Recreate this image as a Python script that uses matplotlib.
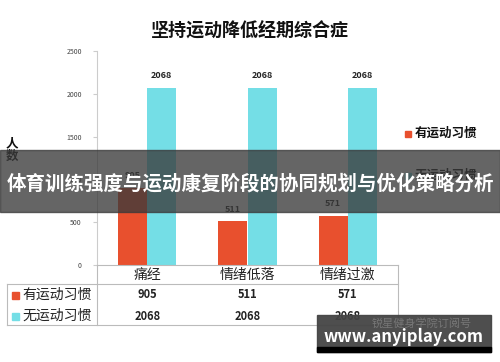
import matplotlib
matplotlib.use("Agg")
import matplotlib.pyplot as plt
from matplotlib.patches import Rectangle
from matplotlib.lines import Line2D
from matplotlib.transforms import blended_transform_factory

plt.rcParams['font.family'] = ['Noto Sans CJK SC', 'DejaVu Sans']

# data
categories = ["痛经", "情绪低落", "情绪过激"]
series_names = ["有运动习惯", "无运动习惯"]
with_habit = [905, 511, 571]
without_habit = [2068, 2068, 2068]
yticks = [0, 500, 1000, 1500, 2000, 2500]
colors = ["#E8502E", "#74DEE6"]

title = "坚持运动降低经期综合症"
ylabel = "人数"
banner = "体育训练强度与运动康复阶段的协同规划与优化策略分析"
source = "锐星健身学院订阅号"
site = "www.anyiplay.com"

W, H = 500, 362
fig = plt.figure(figsize=(W / 100, H / 100), dpi=100)
fig.patch.set_facecolor("white")

def fx(px):
    return px / W

def fy(py):
    return 1 - py / H

ax = fig.add_axes([fx(97), fy(265), fx(398) - fx(97), fy(51) - fy(265)])
x = list(range(len(categories)))
bw = 0.29
b1 = ax.bar([i - bw / 2 for i in x], with_habit, bw, color=colors[0])
b2 = ax.bar([i + bw / 2 for i in x], without_habit, bw, color=colors[1])
for bars, vals in [(b1, with_habit), (b2, without_habit)]:
    for r, v in zip(bars, vals):
        ax.text(r.get_x() + r.get_width() / 2, v + 90, str(v), ha="center",
                va="bottom", fontsize=6.5, fontweight="bold", color="#222222")

ax.set_xlim(-0.5, 2.5)
ax.set_ylim(0, 2500)
ax.set_yticks(yticks)
ax.set_yticklabels([str(t) for t in yticks], fontsize=5, color="#444444")
ax.tick_params(axis="y", length=3, color="#cccccc", pad=8)
ax.set_xticks([])
for s in ["top", "right", "bottom"]:
    ax.spines[s].set_visible(False)
ax.spines["left"].set_color("#cccccc")
ax.spines["left"].set_linewidth(0.8)

fig.text(0.5, fy(31), title, ha="center", va="center", fontsize=13,
         fontweight="heavy", color="#111111")
fig.text(fx(12), fy(150), "人\n数", ha="center", va="center", fontsize=9,
         fontweight="bold", color="#111111", linespacing=1.0)

# legend on right
fig.add_artist(Rectangle((fx(405), fy(137)), fx(6), 6 / H, color=colors[0],
                         transform=fig.transFigure))
fig.text(fx(415), fy(133), series_names[0], ha="left", va="center", fontsize=9,
         fontweight="heavy", color="#111111")
fig.add_artist(Rectangle((fx(405), fy(179)), fx(6), 6 / H, color=colors[1],
                         transform=fig.transFigure))
fig.text(fx(415), fy(175), series_names[1], ha="left", va="center", fontsize=9,
         fontweight="heavy", color="#111111")

# data table below axis
lc = "#bbbbbb"
def hline(y, x0, x1):
    fig.add_artist(Line2D([fx(x0), fx(x1)], [fy(y), fy(y)], color=lc, lw=0.8,
                          transform=fig.transFigure))

def vline(x_, y0, y1):
    fig.add_artist(Line2D([fx(x_), fx(x_)], [fy(y0), fy(y1)], color=lc, lw=0.8,
                          transform=fig.transFigure))

hline(265, 97, 398)
hline(284, 7, 398)
hline(325, 7, 398)
vline(7, 284, 325)
vline(97, 265, 325)
vline(398, 265, 325)

tr = blended_transform_factory(ax.transData, fig.transFigure)
for i, c in enumerate(categories):
    ax.text(i, fy(275), c, transform=tr, ha="center", va="center", fontsize=10,
            color="#222222", clip_on=False)
row_y = [295, 316]
for name, col, vals, ry in zip(series_names, colors, [with_habit, without_habit], row_y):
    fig.add_artist(Rectangle((fx(12), fy(ry + 3.5)), fx(7), 7 / H, color=col,
                             transform=fig.transFigure))
    fig.text(fx(22), fy(ry), name, ha="left", va="center", fontsize=10,
             color="#222222")
    for i, v in enumerate(vals):
        ax.text(i, fy(ry), str(v), transform=tr, ha="center", va="center",
                fontsize=8, fontweight="bold", color="#222222", clip_on=False)

# overlay banner
fig.add_artist(Rectangle((0, fy(212)), 1, 62 / H, color="#3a3a3a", alpha=0.78,
                         transform=fig.transFigure, zorder=10))
fig.text(0.5, fy(184), banner, ha="center", va="center", fontsize=14,
         fontweight="bold", color="white", zorder=11)

# watermark box
fig.add_artist(Rectangle((fx(317), fy(352)), fx(174), 37 / H, color="#444444",
                         alpha=0.95, transform=fig.transFigure, zorder=10))
fig.add_artist(Rectangle((fx(317), fy(352)), fx(174), 5 / H, color="#000000",
                         transform=fig.transFigure, zorder=10))
fig.text(fx(372), fy(323), source, ha="left", va="center", fontsize=8,
         color="#777777", zorder=11)
fig.text(fx(404), fy(337), site, ha="center", va="center", fontsize=12,
         fontweight="bold", color="white", zorder=11)

fig.savefig("out.png", dpi=100)
